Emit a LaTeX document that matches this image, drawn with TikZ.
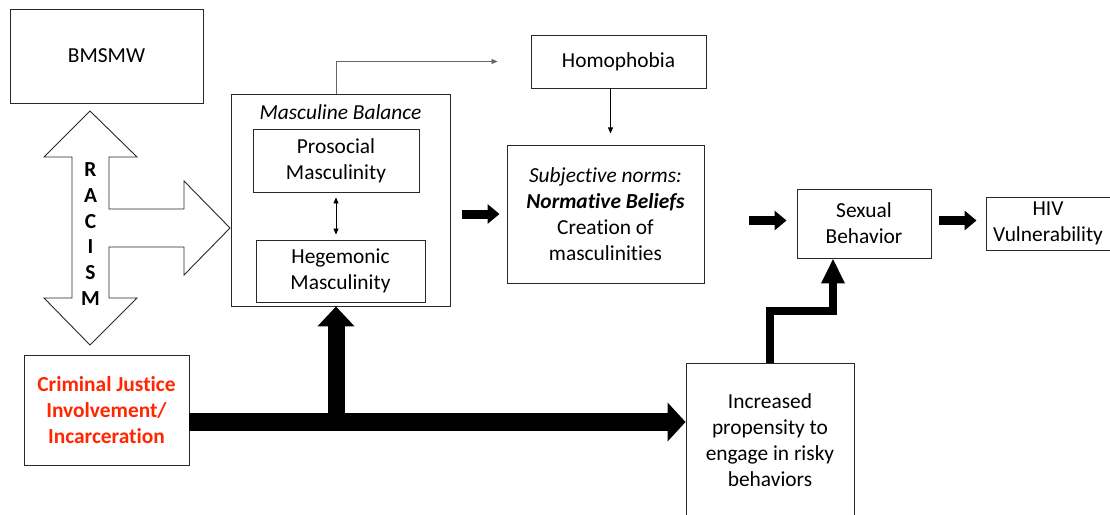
\documentclass[tikz,border=0pt]{standalone}
\usepackage{fontspec}
\setmainfont{Carlito}[Ligatures=NoCommon]
\usetikzlibrary{arrows.meta}
\definecolor{cjired}{RGB}{255,38,0}
\definecolor{boxline}{RGB}{40,40,40}
\newcommand{\bigtext}{\fontsize{21.4}{26}\selectfont}

\begin{document}
\begin{tikzpicture}[x=1pt,y=-1pt,
	every node/.style={font=\bigtext},
	box/.style={draw=boxline, line width=0.9pt, align=center, inner sep=0pt},
	thin/.style={line width=0.7pt},
	>={Triangle[length=6pt,width=5pt]},
	fatarrow/.style={line width=9pt, -{Triangle[length=12pt,width=19pt]}}]
	\useasboundingbox (0,0) rectangle (1110,514);

	\draw[boxline, line width=0.9pt, line join=miter, fill=white] (90,111) -- (137,157) -- (109,157) -- (109,209) -- (184,209) -- (184,181) -- (230,228) -- (184,275) -- (184,247) -- (109,247) -- (109,298) -- (137,298) -- (90,345) -- (44,298) -- (72,298) -- (72,157) -- (44,157) -- cycle;
	\node[align=center, font=\fontsize{21.4}{25.8}\selectfont\bfseries] (racism) at (90.5,234) {R\\A\\C\\I\\S\\M};

	\node[box, minimum width=193, minimum height=94] (bmsmw) at (106.5,56) {BMSMW};
	\node[box, minimum width=165, minimum height=110, text=cjired, font=\bigtext\bfseries] (cji) at (106.5,410) {Criminal Justice\\Involvement/\\Incarceration};

	\node[box, minimum width=219, minimum height=212] (mascbal) at (340.5,200) {};
	\node (mbtitle) at (340.5,112) {\itshape Masculine Balance};
	\node[box, minimum width=166, minimum height=63] (prosoc) at (336,160.5) {Prosocial\\Masculinity};
	\node[box, minimum width=169, minimum height=62] (hegem) at (340.5,271) {Hegemonic\\Masculinity};
	\draw[thin, <->, shorten <=5pt, shorten >=5pt] (prosoc.south) -- (prosoc.south |- hegem.north);

	\node[box, minimum width=175, minimum height=53] (homoph) at (618.5,61.5) {Homophobia};
	\node[box, minimum width=197, minimum height=138] (subjnorm) at (605.5,214) {\textit{Subjective norms:}\\\textbf{\textit{Normative Beliefs}}\\Creation of\\masculinities};
	\node[box, minimum width=134, minimum height=69] (sexbeh) at (864,223.5) {Sexual\\Behavior};
	\node[box, minimum width=124, minimum height=53] (hiv) at (1048,223.5) {HIV\\Vulnerability};
	\node[box, minimum width=168, minimum height=154] (risky) at (770,440) {Increased\\propensity to\\engage in risky\\behaviors};

	\draw[thin, black!60, ->] (mascbal.north -| prosoc) |- ([xshift=-33pt]homoph.west);
	\draw[thin, ->] ([xshift=-8pt]homoph.south) -- ++(0,45);

	\draw[fatarrow] ([xshift=12pt]subjnorm.west -| mascbal.east) -- ([xshift=-7pt]subjnorm.west);
	\draw[fatarrow] ([xshift=45pt,yshift=3pt]sexbeh.west -| subjnorm.east) -- ([xshift=-10pt,yshift=3pt]sexbeh.west);
	\draw[fatarrow] ([xshift=8pt,yshift=3pt]sexbeh.east) -- ([xshift=-9pt,yshift=3pt]hiv.west);

	% thick arrows from the bottom
	\coordinate (bar) at ([yshift=-12pt]cji.east);
	\draw[line width=18pt, -{Triangle[length=18pt,width=38pt]}] (bar) -- (bar -| risky.west);
	\draw[line width=17pt, -{Triangle[length=20pt,width=36pt]}] (prosoc |- bar) -- (prosoc |- mascbal.south);
	\draw[line width=8pt, line join=miter, -{Triangle[length=25pt,width=22pt]}] (risky.north) -- ++(0,-52) -| ([xshift=-31pt]sexbeh.south);

\end{tikzpicture}
\end{document}
